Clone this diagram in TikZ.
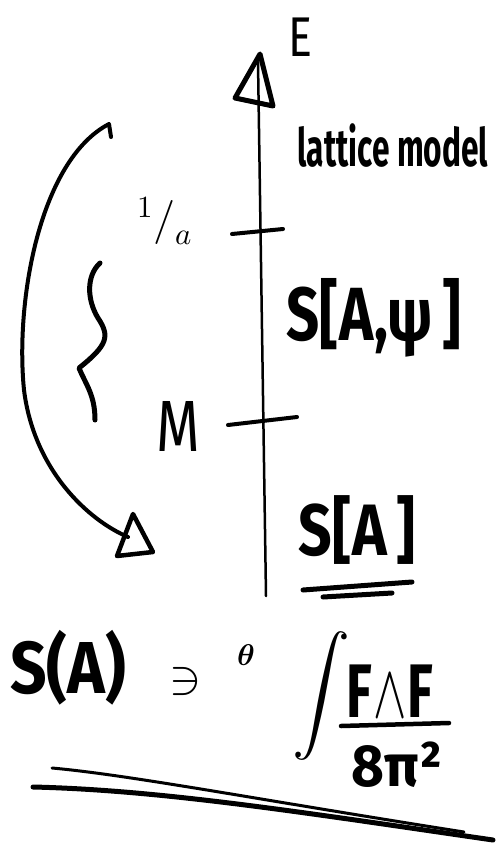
\documentclass[tikz,border=0pt]{standalone}
\usepackage{fontspec}
\usepackage{unicode-math}
\setmainfont{Fira Sans}
\setmathfont{Latin Modern Math}
\begin{document}
\begin{tikzpicture}[x=1pt,y=-1pt,
  ink/.style={line width=#1, line cap=round, line join=round},
  ink/.default=4pt,
  lbl/.style={inner sep=0pt, outer sep=0pt}]
\useasboundingbox (0,0) rectangle (498,846);
% axis
\coordinate (bot) at (266,596);
\coordinate (top) at (258,62);
\draw[ink=2.5pt] (bot) -- (top);
\draw[ink=5pt] (260,54) -- (235,98) -- (273,106) -- cycle;
\node[lbl] (E) at (300,37) {\scalebox{0.8}[1]{\fontsize{56}{56}\selectfont E}};
\node[lbl] (lat) at (393,146) {\scalebox{0.72}[1.2]{\fontsize{44}{44}\selectfont\bfseries lattice model}};
% ticks
\coordinate (t1a) at (232,234); \coordinate (t1b) at (283,229);
\coordinate (t2a) at (228,425); \coordinate (t2b) at (297,417);
\draw[ink=4pt] (t1a) -- (t1b);
\draw[ink=4pt] (t2a) -- (t2b);
\node[lbl] (inva) at (165,221) {\fontsize{44}{44}\selectfont $^{1}/_{a}$};
\node[lbl] (M) at (178,426) {\scalebox{0.85}[1.1]{\fontsize{66}{66}\selectfont M}};
% actions
\node[lbl] (Spsi) at (374,318) {\scalebox{1.0}[1.3]{\fontsize{58}{58}\selectfont\bfseries S[A,ψ\,]}};
\node[lbl] (SA) at (357,530) {\scalebox{1.05}[1.3]{\fontsize{56}{56}\selectfont\bfseries S[A\,]}};
\draw[ink=5pt] (303,590) -- (412,582);
\draw[ink=5pt] (323,597) -- (392,593);
% brace
\draw[ink=5pt] (100,263) .. controls (86,276) and (87,300) .. (98,318)
  .. controls (110,336) and (108,345) .. (79,368)
  .. controls (86,385) and (95,395) .. (95,420);
% curved arrow
\draw[ink=4pt] (111,137) -- (109,124) .. controls (40,160) and (15,300) .. (24,390)
  .. controls (34,470) and (88,520) .. (128,537);
\draw[ink=4.5pt] (133,514) -- (117,556) -- (153,552) -- cycle;
% bottom formula
\node[lbl] (SofA) at (68,668) {\scalebox{1}[1.15]{\fontsize{64}{64}\selectfont\bfseries S(A)}};
\node[lbl] (ni) at (186,681) {\fontsize{48}{48}\selectfont $\ni$};
\node[lbl] (th) at (246,655) {\fontsize{30}{30}\selectfont $\symbf{\theta}$};
\node[lbl] (int) at (321,696) {\fontsize{58}{58}\selectfont $\displaystyle\int$};
\node[lbl] (num) at (390,692) {\scalebox{0.8}[1.15]{\fontsize{66}{66}\selectfont\bfseries F$\symbf{\wedge}$F}};
\draw[ink=4.5pt] (341,726) -- (449,723);
\node[lbl] (den) at (397,765) {\scalebox{1.05}[1.1]{\fontsize{54}{54}\selectfont\bfseries 8π²}};
% scribble
\draw[ink=3pt] (52,768) .. controls (130,775) and (260,800) .. (464,832);
\draw[ink=5pt] (33,787) .. controls (160,790) and (300,812) .. (493,840);
\end{tikzpicture}
\end{document}
